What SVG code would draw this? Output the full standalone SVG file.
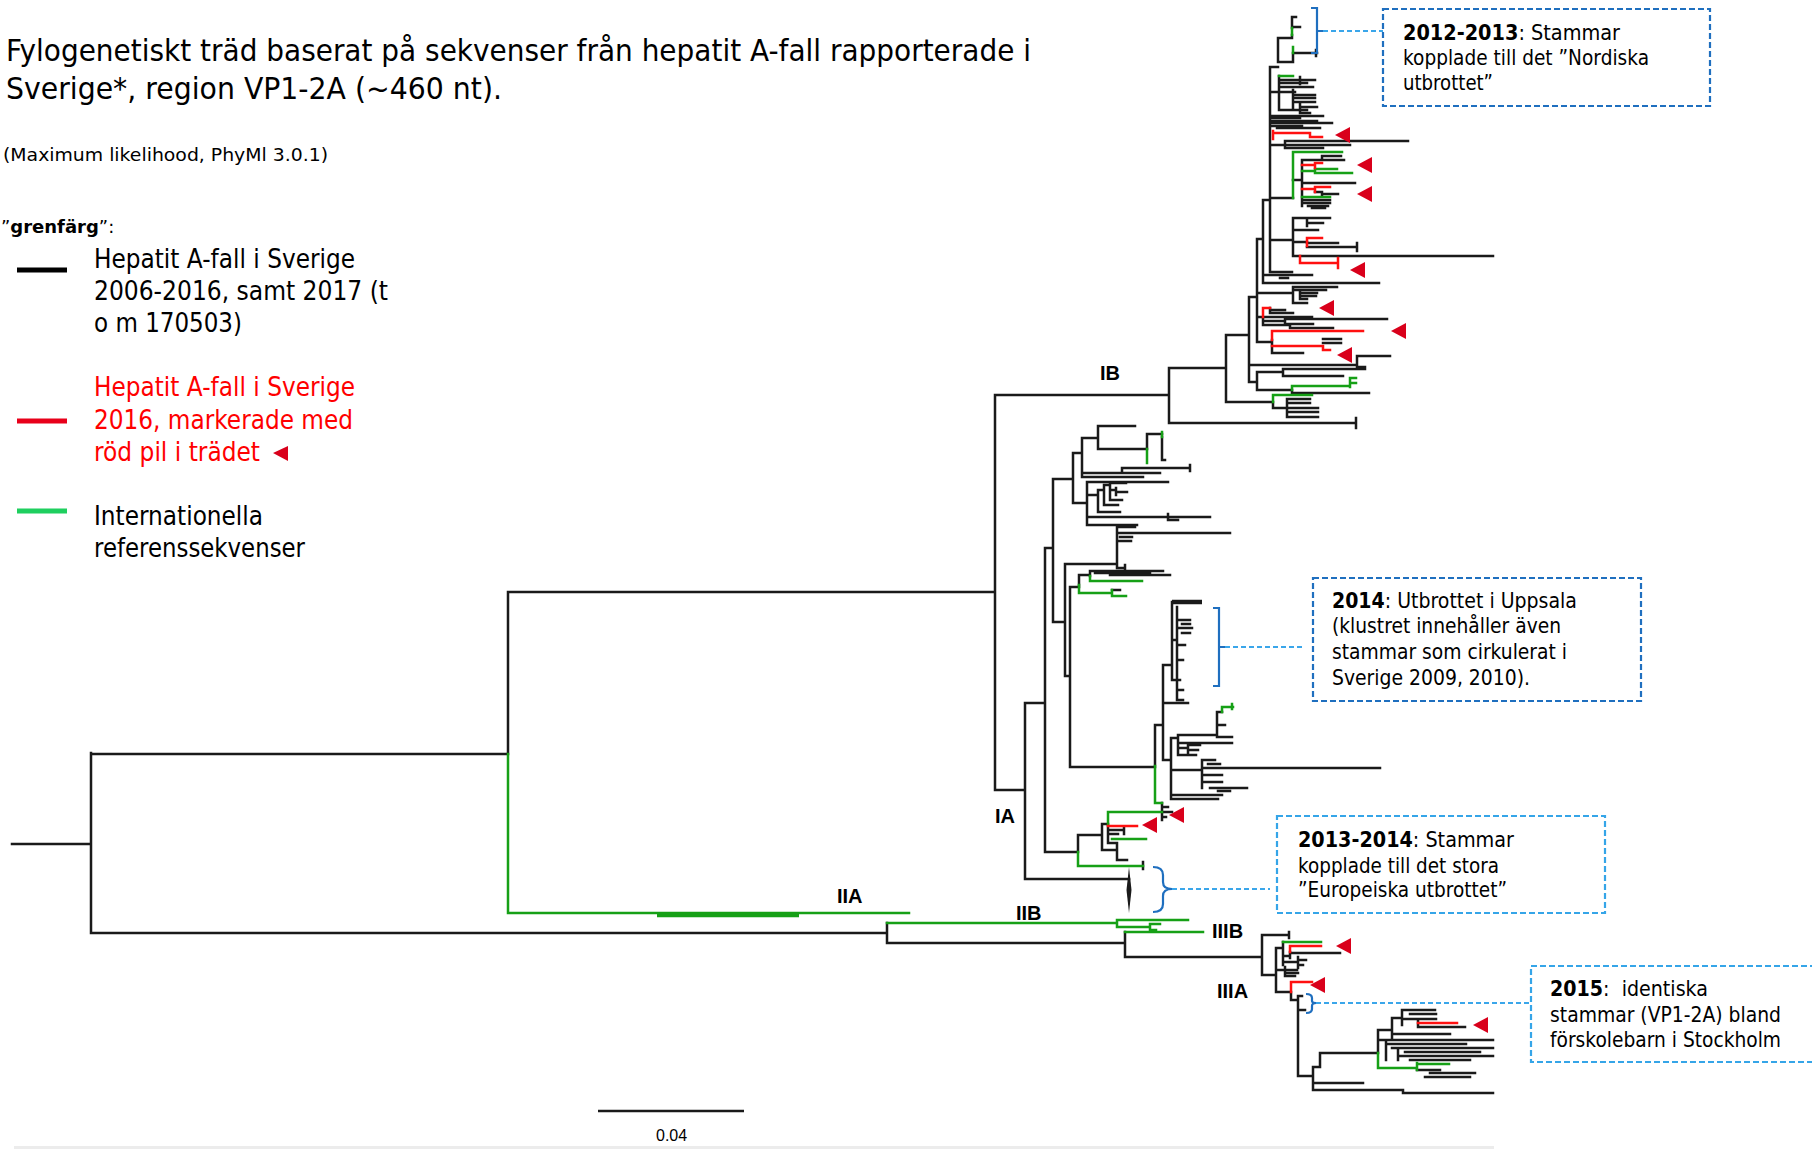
<svg xmlns="http://www.w3.org/2000/svg" xmlns:xlink="http://www.w3.org/1999/xlink" width="1812" height="1149" viewBox="0 0 1812 1149">
<defs>
<style>
.tx{font-family:"DejaVu Sans","Liberation Sans",sans-serif;}
.lb{font-family:"Liberation Sans",Arial,sans-serif;font-weight:bold;font-size:20px;fill:#000;}
.bk{fill:none;stroke:#1a1a1a;stroke-width:2.5;stroke-linecap:square;}
.gr{fill:none;stroke:#16a016;stroke-width:2.5;stroke-linecap:square;}
.rd{fill:none;stroke:#ff1010;stroke-width:2.5;stroke-linecap:square;}
.box{fill:none;stroke-width:2.2;stroke-dasharray:6 3;}
.brk{fill:none;stroke:#1f6fbf;stroke-width:2.2;}
.con{fill:none;stroke:#3aa6ea;stroke-width:1.8;stroke-dasharray:5 3;}
.bt{font-family:"DejaVu Sans","Liberation Sans",sans-serif;font-size:21px;fill:#000;}
</style>
<path id="arr" d="M0 0L15 -8L15 8Z" fill="#d9001b"/>
</defs>
<rect width="1812" height="1149" fill="#fff"/>

<g id="title">
<text class="tx" x="6" y="61" font-size="31" textLength="1025" lengthAdjust="spacingAndGlyphs">Fylogenetiskt träd baserat på sekvenser från hepatit A-fall rapporterade i</text>
<text class="tx" x="6" y="99" font-size="31" textLength="496" lengthAdjust="spacingAndGlyphs">Sverige*, region VP1-2A (~460 nt).</text>
<text class="tx" x="3" y="161" font-size="18.5" textLength="325" lengthAdjust="spacingAndGlyphs">(Maximum likelihood, PhyMl 3.0.1)</text>
</g>

<g id="legend">
<text class="tx" x="1" y="233" font-size="18">”<tspan font-weight="bold">grenfärg</tspan>”:</text>
<line x1="17" y1="270" x2="67" y2="270" stroke="#000" stroke-width="5"/>
<text class="tx" font-size="26" fill="#000"><tspan x="94" y="268" textLength="261" lengthAdjust="spacingAndGlyphs">Hepatit A-fall i Sverige</tspan><tspan x="94" y="300" textLength="294" lengthAdjust="spacingAndGlyphs">2006-2016, samt 2017 (t</tspan><tspan x="94" y="332" textLength="148" lengthAdjust="spacingAndGlyphs">o m 170503)</tspan></text>
<line x1="17" y1="421" x2="67" y2="421" stroke="#e8001a" stroke-width="5"/>
<text class="tx" font-size="26" fill="#ff0000"><tspan x="94" y="396" textLength="261" lengthAdjust="spacingAndGlyphs">Hepatit A-fall i Sverige</tspan><tspan x="94" y="429" textLength="259" lengthAdjust="spacingAndGlyphs">2016, markerade med</tspan><tspan x="94" y="461" textLength="166" lengthAdjust="spacingAndGlyphs">röd pil i trädet</tspan></text>
<path d="M273 453L288 446L288 461Z" fill="#d9001b"/>
<line x1="17" y1="511" x2="67" y2="511" stroke="#1fcf5f" stroke-width="5"/>
<text class="tx" font-size="26" fill="#000"><tspan x="94" y="525" textLength="169" lengthAdjust="spacingAndGlyphs">Internationella</tspan><tspan x="94" y="557" textLength="211" lengthAdjust="spacingAndGlyphs">referenssekvenser</tspan></text>
</g>

<g id="connectors">
<path class="bk" d="M12 844H91M91 753V933M91 754H508M508 592V754M508 592H995M91 933H887M887 923V943M887 943H1125M1125 932V957M1125 957H1262
M995 395V790M995 395H1169M995 790H1025M1025 703V879M1025 879H1129M1025 703H1045M1045 548V852
M1169 368V423M1169 423H1356M1356 418V428M1169 368H1226M1226 335V402
M1226 402H1273M1273 402V408M1273 408H1287M1287 399V417M1287 399H1310M1287 403H1310M1287 408H1318M1287 412H1318M1287 417H1318
M1226 335H1249M1249 297V382M1249 365H1357M1357 356V367M1357 356H1390M1357 367H1365
M1249 382H1257M1257 372V390M1257 372H1283M1283 369V376M1283 369H1365M1283 376H1343
M1257 390H1292M1292 390V393M1292 393H1369
M1249 297H1257M1257 239V342
M1257 342H1272M1272 340V353M1323 339H1341M1323 343H1341M1272 353H1303
M1257 317H1263M1270 308V313M1270 310H1285M1270 313H1293M1263 317V325M1263 317H1312M1263 321H1285M1285 319V324M1285 319H1387M1285 324H1313M1263 325H1290M1290 325V328M1290 328H1333
M1257 293H1293M1293 287V303M1293 287H1337M1300 290V299M1293 290H1326M1300 293H1317M1300 296H1316M1300 299H1307M1293 303H1307
M1257 239H1263M1263 200V283M1263 283H1379M1263 275H1312M1270 272H1292M1280 278H1288
M1263 200H1270M1270 67V272
M1270 67H1278M1278 38V62M1278 38H1292M1292 17V28M1292 35V38M1292 17H1296M1292 27H1300M1278 62H1293M1293 53V62M1293 53H1317M1316 50V56
M1270 92H1279M1279 76V110M1279 80H1300M1300 77V84M1300 80H1315M1279 83H1307M1279 87H1313M1279 92H1295M1293 90V110M1293 95H1315M1293 98H1315M1293 102H1315M1300 104V113M1300 107H1317M1279 110H1307M1300 113H1310
M1270 116H1323M1270 118H1300M1270 121H1317M1272 123H1332M1272 126H1302M1277 128H1320
M1270 145H1285M1285 141V148M1285 141H1408M1285 145H1350M1285 148H1323
M1270 198H1293M1293 180H1302M1302 160V206M1302 160H1322M1322 156V160M1322 156H1341M1322 160H1344M1302 183H1355M1315 192H1322M1322 192V195M1322 194H1338M1302 200H1330M1302 203H1330M1308 206H1328M1312 208H1325
M1270 240H1293M1293 218V256M1293 218H1330M1307 220V226M1307 223H1323M1293 230H1318M1293 242H1307M1307 243H1338M1307 247H1357M1357 243V251M1293 256H1493
M1045 548H1053M1053 479V622M1053 479H1073M1053 622H1065
M1073 453V503M1073 453H1082M1073 503H1087
M1082 438V477M1082 438H1098M1082 473H1122M1082 477H1143
M1098 426V449M1098 426H1135M1098 449H1147M1147 434V449M1147 434H1162M1162 437V460M1162 460H1165
M1122 468V473M1122 468H1190M1190 465V471M1122 473H1160
M1087 482V525M1087 482H1168M1087 495H1098M1098 490V512M1098 490H1104M1104 485V505M1104 485H1110M1110 483V500M1110 483H1126M1110 490H1116M1116 488V495M1116 492H1127M1110 500H1122M1104 505H1118M1098 512H1120M1087 517H1210M1168 514V520M1168 520H1178M1087 525H1137
M1065 564V676M1065 564H1117M1117 527V568M1117 527H1135M1117 533H1230M1120 537H1132M1117 541H1131M1117 568H1125M1125 565V571
M1065 676H1070M1070 587V767M1070 587H1079M1079 575V585M1079 575H1090M1090 571V576M1090 571H1163M1095 573H1150M1110 575H1170M1112 590H1120
M1070 767H1155M1155 725V766M1155 725H1163M1163 665V760M1163 703H1188M1163 665H1172
M1172 602V680M1177 607V700M1172 640H1177M1177 620H1190M1182 624H1190M1177 628H1192M1182 633H1190M1177 645H1185M1177 660H1183M1172 680H1180M1177 690H1183M1177 700H1183
M1163 760H1171M1171 738V799M1171 738H1178M1178 735V755M1178 735H1217M1217 712V737M1217 712H1222M1217 725H1225M1217 737H1232M1178 743H1232M1178 748H1188M1188 745V753M1188 745H1200M1188 750H1198M1178 755H1196M1171 770H1202M1202 760V788M1202 760H1215M1208 764H1220M1202 768H1380M1202 775H1222M1202 782H1222M1210 788H1247M1218 791H1230M1171 795H1222M1171 799H1218
M1045 852H1078M1078 835V852M1078 835H1102M1102 824V850M1102 824H1108M1108 826V843M1108 830H1124M1124 828V834M1108 834H1118M1108 843H1116M1102 850H1117M1117 843V860M1117 860H1127M1162 803V820M1162 807H1168M1162 812H1172M1162 817H1166M1143 862V869
M1262 935V975M1262 935H1289M1289 932V938M1262 975H1276M1276 948V992M1276 948H1283M1283 942V965M1290 952V958M1290 953H1340M1283 956H1290M1283 962H1298M1298 957V968M1298 960H1306M1298 965H1303M1276 970H1297M1285 967V976M1285 973H1298M1285 976H1295M1276 992H1291M1291 992V1000M1291 1000H1298M1298 996V1076M1298 996H1302M1298 1010H1305M1298 1076H1313M1313 1067V1090M1313 1067H1320M1320 1053V1067M1320 1053H1378M1313 1083H1363M1313 1090H1403M1403 1090V1093M1403 1093H1493M1378 1030V1053
M1378 1030H1392M1392 1018V1040M1392 1018H1402M1402 1010V1025M1402 1010H1435M1410 1014H1436M1402 1019H1436M1418 1019V1027M1418 1027H1465M1392 1034H1450M1378 1040H1493M1386 1040V1060M1386 1044H1466M1392 1048H1493M1398 1048V1060M1405 1052H1480M1398 1056H1493M1410 1060H1470M1417 1070H1440M1430 1073H1475M1425 1077H1470"/>
<path class="gr" d="M508 754V913M508 913H909M887 923H1117M1117 920V927M1117 920H1188M1117 927H1150M1150 924V930M1150 924H1160M1150 930H1156M1125 932H1203
M1292 28V35M1293 47V53M1279 76H1293M1293 152V198M1293 152H1342M1302 171H1315M1315 169V173M1315 169H1337M1315 173H1352M1302 197H1330M1292 386V390M1292 386H1350M1350 378V387M1350 378H1356M1350 383H1356M1273 395V402M1273 395H1312
M1147 449V463M1162 432V437M1079 585V593M1090 576V581M1090 581H1142M1079 593H1112M1112 590V596M1112 596H1126M1155 766V803M1155 803H1162M1222 707V712M1222 707H1233M1232 704V709M1078 852V866M1078 866H1143M1108 812V824M1108 812H1162M1112 839H1146
M1283 942H1321M1378 1053V1068M1378 1068H1417M1417 1063V1070M1417 1064H1449"/>
<path d="M657 915H799" stroke="#16a016" stroke-width="4.5" fill="none"/>
<path d="M1172 602H1202" stroke="#1a1a1a" stroke-width="4.5" fill="none"/>
<path d="M1129 867L1131.5 890L1129 913L1126.5 890Z" fill="#1a1a1a"/>
<path class="rd" d="M1273 131V139M1273 133H1310M1310 133V137M1310 137H1322
M1302 165H1315M1315 163V168M1315 163H1322M1302 189H1315M1315 187V192M1315 187H1330
M1307 238V246M1307 238H1322M1300 256V263M1300 263H1338M1338 258V268
M1263 308V317M1263 308H1270M1272 331V340M1272 331H1363M1272 346H1323M1323 346V350M1323 350H1330
M1108 826H1137
M1290 946V952M1290 946H1321M1291 982V992M1291 982H1312M1418 1023H1457"/>
</g>

<g id="arrows">
<use xlink:href="#arr" x="1335" y="135"/>
<use xlink:href="#arr" x="1357" y="165"/>
<use xlink:href="#arr" x="1357" y="194"/>
<use xlink:href="#arr" x="1350" y="270"/>
<use xlink:href="#arr" x="1319" y="308"/>
<use xlink:href="#arr" x="1391" y="331"/>
<use xlink:href="#arr" x="1337" y="355"/>
<use xlink:href="#arr" x="1169" y="815"/>
<use xlink:href="#arr" x="1142" y="825"/>
<use xlink:href="#arr" x="1336" y="946"/>
<use xlink:href="#arr" x="1310" y="985"/>
<use xlink:href="#arr" x="1473" y="1025"/>
</g>

<g id="clade-labels">
<text class="lb" x="1100" y="380">IB</text>
<text class="lb" x="995" y="823">IA</text>
<text class="lb" x="837" y="903">IIA</text>
<text class="lb" x="1016" y="920">IIB</text>
<text class="lb" x="1212" y="938">IIIB</text>
<text class="lb" x="1217" y="998">IIIA</text>
</g>

<g id="note-2012">
<path class="brk" d="M1311 8H1317V53H1311M1317 31H1323"/>
<path class="con" d="M1323 31H1383"/>
<rect class="box" x="1383" y="9" width="327" height="97" stroke="#1f6fbf"/>
<text class="bt"><tspan x="1403" y="40" textLength="217" lengthAdjust="spacingAndGlyphs"><tspan font-weight="bold">2012-2013</tspan>: Stammar</tspan><tspan x="1403" y="65" textLength="246" lengthAdjust="spacingAndGlyphs">kopplade till det ”Nordiska</tspan><tspan x="1403" y="90" textLength="90" lengthAdjust="spacingAndGlyphs">utbrottet”</tspan></text>
</g>

<g id="note-2014">
<path class="brk" d="M1213 608H1219V686H1213M1219 647H1225"/>
<path class="con" d="M1225 647H1303"/>
<rect class="box" x="1313" y="578" width="328" height="123" stroke="#1f6fbf"/>
<text class="bt"><tspan x="1332" y="608" textLength="245" lengthAdjust="spacingAndGlyphs"><tspan font-weight="bold">2014</tspan>: Utbrottet i Uppsala</tspan><tspan x="1332" y="633" textLength="229" lengthAdjust="spacingAndGlyphs">(klustret innehåller även</tspan><tspan x="1332" y="659" textLength="235" lengthAdjust="spacingAndGlyphs">stammar som cirkulerat i</tspan><tspan x="1332" y="685" textLength="198" lengthAdjust="spacingAndGlyphs">Sverige 2009, 2010).</tspan></text>
</g>

<g id="note-2013">
<path class="brk" d="M1153 867Q1163 867 1163 875V882Q1163 889 1172 889Q1163 889 1163 896V904Q1163 912 1153 912"/>
<path class="con" d="M1172 889H1270"/>
<rect class="box" x="1277" y="816" width="328" height="97" stroke="#35a5e8"/>
<text class="bt"><tspan x="1298" y="847" textLength="216" lengthAdjust="spacingAndGlyphs"><tspan font-weight="bold">2013-2014</tspan>: Stammar</tspan><tspan x="1298" y="873" textLength="201" lengthAdjust="spacingAndGlyphs">kopplade till det stora</tspan><tspan x="1298" y="897" textLength="209" lengthAdjust="spacingAndGlyphs">”Europeiska utbrottet”</tspan></text>
</g>

<g id="note-2015">
<path class="brk" d="M1306 994Q1312 994 1312 998V1001Q1312 1003 1316 1003Q1312 1003 1312 1006V1009Q1312 1013 1306 1013"/>
<path class="con" d="M1316 1003H1531"/>
<rect class="box" x="1531" y="966" width="300" height="96" stroke="#35a5e8"/>
<text class="bt"><tspan x="1550" y="996" textLength="158" lengthAdjust="spacingAndGlyphs"><tspan font-weight="bold">2015</tspan>:&#160; identiska</tspan><tspan x="1550" y="1022" textLength="231" lengthAdjust="spacingAndGlyphs">stammar (VP1-2A) bland</tspan><tspan x="1550" y="1047" textLength="231" lengthAdjust="spacingAndGlyphs">förskolebarn i Stockholm</tspan></text>
</g>

<g id="scale">
<line x1="598" y1="1111" x2="744" y2="1111" stroke="#1a1a1a" stroke-width="2.5"/>
<text x="656" y="1141" font-family="Liberation Sans, Arial, sans-serif" font-size="16" fill="#000">0.04</text>
</g>
<rect x="14" y="1146" width="1480" height="3" fill="#ececec"/>
</svg>
